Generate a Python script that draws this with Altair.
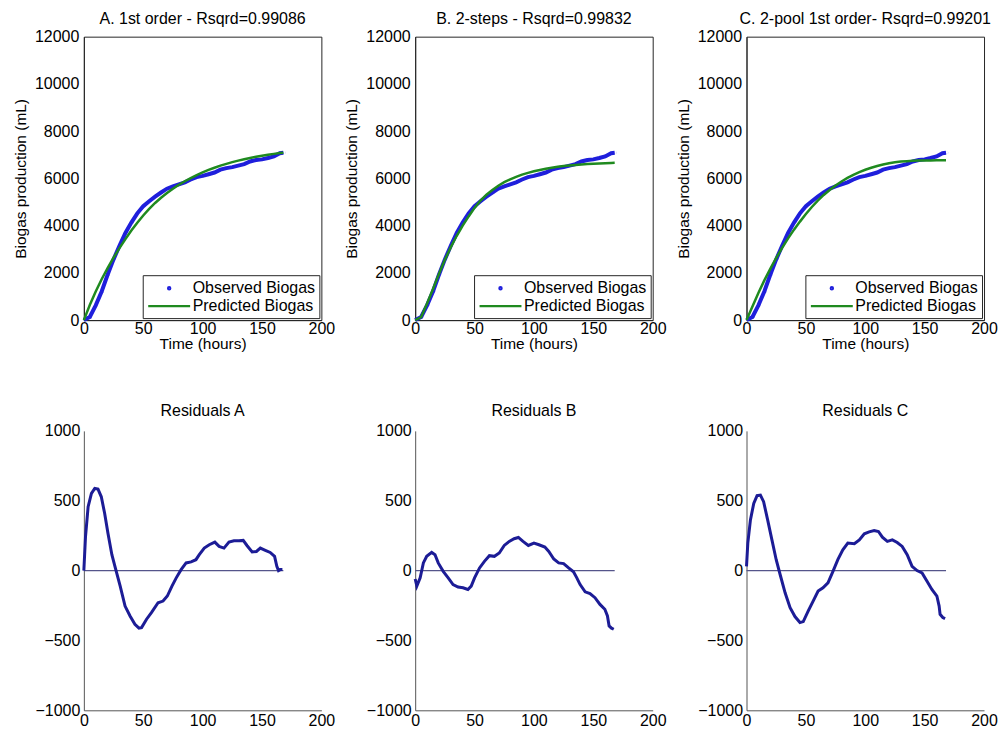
import altair as alt
import pandas as pd

FONT = "Liberation Sans"
BLUE = "#1f1fdc"
NAVY = "#1c1c96"
GREEN = "#1f8a1f"
ZERO_COLOR = "#55558a"
BOX = "#262626"
GRAYAX = "#555555"

SERIES = ["Observed Biogas", "Predicted Biogas"]
TOP_TITLES = ["A. 1st order - Rsqrd=0.99086", "B. 2-steps - Rsqrd=0.99832",
              "C. 2-pool 1st order- Rsqrd=0.99201"]
BOTTOM_TITLES = ["Residuals A", "Residuals B", "Residuals C"]
X_TICKS = [0, 50, 100, 150, 200]
Y_TICKS_TOP = [0, 2000, 4000, 6000, 8000, 10000, 12000]
Y_TICKS_RES = [-1000, -500, 0, 500, 1000]

TIME = [0, 5, 10, 15, 20, 25, 30, 35, 40, 45, 50, 55, 60, 65, 70, 75, 80, 85, 90, 95,
        100, 105, 110, 115, 120, 125, 130, 135, 140, 145, 150, 155, 160, 165, 168]
OBSERVED = [0, 130, 622, 1210, 1920, 2570, 3145, 3692, 4130, 4520, 4820, 5035, 5230, 5402,
            5565, 5665, 5750, 5835, 5953, 6055, 6105, 6175, 6248, 6368, 6436, 6477, 6539,
            6601, 6715, 6778, 6805, 6862, 6930, 7065, 7083]
PRED_A = [0, 640, 1210, 1730, 2200, 2640, 3050, 3430, 3790, 4120, 4430, 4710, 4960, 5180,
          5380, 5565, 5730, 5880, 6015, 6140, 6253, 6357, 6452, 6538, 6616, 6687, 6752,
          6811, 6865, 6914, 6960, 7000, 7038, 7072, 7090]
PRED_B = [0, 130, 700, 1320, 1950, 2550, 3090, 3570, 4000, 4390, 4750, 5060, 5310, 5510,
          5690, 5840, 5960, 6065, 6160, 6235, 6300, 6355, 6405, 6450, 6490, 6520, 6548,
          6570, 6590, 6605, 6620, 6632, 6645, 6655, 6660]
PRED_C = [0, 580, 1150, 1680, 2170, 2630, 3060, 3460, 3830, 4170, 4490, 4790, 5060, 5300,
          5510, 5700, 5870, 6020, 6150, 6265, 6365, 6450, 6525, 6590, 6640, 6680, 6710,
          6730, 6745, 6755, 6760, 6762, 6763, 6764, 6764]

RES_A_T = [0, 1.4, 3.6, 6.4, 9.2, 11.9, 14.7, 17.5, 20.3, 23.6, 26.9, 30.6, 34.7, 38.9, 43,
           46.4, 48.6, 52.8, 56.9, 62.5, 66.7, 70.3, 74.2, 77.8, 81.9, 86.1, 90.3, 94.4,
           97.2, 101.4, 105.6, 110.3, 113.9, 118, 122.2, 126.4, 130.6, 134.2, 137.5, 141.7,
           145.3, 148.6, 152.8, 156.9, 160.6, 162.5, 163.9, 165.3, 167.2]
RES_A = [0, 244, 457, 552, 588, 583, 528, 410, 268, 114, 7, -111, -254, -325, -384, -412,
         -408, -348, -301, -230, -218, -182, -111, -52, 7, 55, 62, 78, 114, 161, 185, 204,
         173, 161, 204, 213, 213, 216, 178, 133, 137, 161, 145, 130, 102, 31, 0, 7, 7]
RES_B_T = [0, 1.4, 4.2, 6.9, 9.7, 13.9, 16.7, 19.4, 23.6, 27.8, 31.9, 36.1, 40.3, 44.4, 47.2,
           50, 54.2, 58.3, 62.5, 66.7, 70.8, 75, 79.2, 83.3, 86.9, 90.8, 95.3, 100, 104.2,
           109.2, 112.5, 116.7, 120.8, 125, 129.2, 133.3, 136.1, 138.9, 143.1, 147.2, 151.4,
           155.6, 159.7, 161.9, 163.3, 165.3, 167.2]
RES_B = [-60, -111, -52, 55, 102, 130, 114, 55, -5, -52, -100, -118, -123, -135, -111, -52,
         19, 66, 107, 102, 126, 180, 209, 228, 237, 209, 180, 197, 185, 168, 137, 83, 55, 50,
         19, -9, -52, -100, -152, -164, -194, -242, -277, -325, -396, -412, -420]
RES_C_T = [0, 1.1, 3.3, 6.1, 8.9, 11.7, 14.4, 17.8, 21.4, 25, 28.3, 32.5, 36.7, 40.8, 45,
           47.8, 52, 56.1, 60.3, 64.4, 68.6, 72.8, 76.9, 81.1, 85.3, 90.8, 95, 99.2, 103.3,
           107.5, 111.1, 114.4, 118.6, 122.8, 126.9, 131.1, 135.3, 139.4, 143.6, 147.8, 152,
           156.1, 160.3, 162.2, 163, 165.3, 167.2]
RES_C = [30, 197, 363, 481, 536, 540, 493, 363, 220, 78, -28, -159, -265, -329, -372, -365,
         -289, -218, -147, -123, -88, -5, 78, 149, 197, 192, 220, 263, 277, 287, 280, 239,
         209, 220, 201, 173, 114, 31, 0, -17, -76, -135, -182, -254, -313, -336, -344]
ZERO_T = [0, 168]
ZERO_V = [0, 0]

# legend symbol shapes (custom paths, unit = sqrt(symbolSize)/2)
DOT_PATH = "M1.67,0A0.13,0.13,0,1,1,1.93,0A0.13,0.13,0,1,1,1.67,0Z"
DASH_PATH = "M-1.0,0L4.6,0"

AX_COMMON = dict(labelFont=FONT, labelFontSize=16, labelColor="black", titleFont=FONT,
                 titleFontSize=15.5, titleFontWeight="normal", titleColor="black",
                 ticks=False, grid=False, labelFlush=False, labelOverlap=False, format="d")


def panel_title(text, offset):
    return alt.TitleParams(text=text, font=FONT, fontSize=16, fontWeight="normal",
                           color="black", offset=offset, anchor="middle")


def top_panel(pred, title):
    obs_df = pd.DataFrame({"t": TIME, "v": OBSERVED, "series": SERIES[0]})
    pred_df = pd.DataFrame({"t": TIME, "v": pred})
    x = alt.X("t:Q", scale=alt.Scale(domain=[0, 200], nice=False),
              axis=alt.Axis(values=X_TICKS, title="Time (hours)", domainColor=BOX,
                            labelPadding=0, titlePadding=0, **AX_COMMON))
    y = alt.Y("v:Q", scale=alt.Scale(domain=[0, 12000], nice=False),
              axis=alt.Axis(values=Y_TICKS_TOP, title="Biogas production (mL)",
                            domainColor=BOX, labelPadding=5, titlePadding=6, **AX_COMMON))
    legend = alt.Legend(title=None, orient="bottom-right", offset=2, padding=4,
                        fillColor="white", strokeColor=BOX, cornerRadius=0,
                        symbolSize=225, symbolStrokeWidth=2.5, labelOffset=28,
                        labelFont=FONT, labelFontSize=16, labelColor="black",
                        rowPadding=1, labelLimit=300)
    obs_line = alt.Chart(obs_df).mark_line(color=BLUE, strokeWidth=4).encode(x=x, y=y)
    obs_pts = alt.Chart(obs_df).mark_point(filled=False, strokeWidth=2.5, size=1,
                                           opacity=1).encode(
        x=x, y=y,
        color=alt.Color("series:N", scale=alt.Scale(domain=SERIES, range=[BLUE, GREEN]),
                        legend=legend),
        shape=alt.Shape("series:N",
                        scale=alt.Scale(domain=SERIES, range=[DOT_PATH, DASH_PATH]),
                        legend=legend),
    )
    pred_line = alt.Chart(pred_df).mark_line(color=GREEN, strokeWidth=2.5).encode(x=x, y=y)
    return alt.layer(obs_line, obs_pts, pred_line).properties(
        width=238, height=284, title=panel_title(title, 2),
        view=alt.ViewBackground(stroke=BOX, strokeWidth=1))


def res_panel(ts, vals, title):
    df = pd.DataFrame({"t": ts, "v": vals})
    zdf = pd.DataFrame({"t": ZERO_T, "v": ZERO_V})
    x = alt.X("t:Q", scale=alt.Scale(domain=[0, 200], nice=False),
              axis=alt.Axis(values=X_TICKS, title=None, domainColor=GRAYAX,
                            labelPadding=2, **AX_COMMON))
    y = alt.Y("v:Q", scale=alt.Scale(domain=[-1000, 1000], nice=False),
              axis=alt.Axis(values=Y_TICKS_RES, title=None, domainColor=GRAYAX,
                            labelPadding=4, **AX_COMMON))
    zero = alt.Chart(zdf).mark_line(color=ZERO_COLOR, strokeWidth=1.2).encode(x=x, y=y)
    line = alt.Chart(df).mark_line(color=NAVY, strokeWidth=3).encode(x=x, y=y)
    return alt.layer(zero, line).properties(width=238, height=280,
                                            title=panel_title(title, 4))


panels = [
    top_panel(PRED_A, TOP_TITLES[0]),
    top_panel(PRED_B, TOP_TITLES[1]),
    top_panel(PRED_C, TOP_TITLES[2]),
    res_panel(RES_A_T, RES_A, BOTTOM_TITLES[0]),
    res_panel(RES_B_T, RES_B, BOTTOM_TITLES[1]),
    res_panel(RES_C_T, RES_C, BOTTOM_TITLES[2]),
]

chart = alt.concat(*panels, columns=3, spacing={"row": 50, "column": 9}).resolve_scale(
    color="independent", shape="independent"
).resolve_legend(
    color="independent", shape="independent"
).configure(
    font=FONT, background="white",
    padding={"left": 5, "top": 1, "right": 0, "bottom": 0},
).configure_view(stroke="transparent")

chart.save("out.html", embed_options={"renderer": "svg", "actions": False})
